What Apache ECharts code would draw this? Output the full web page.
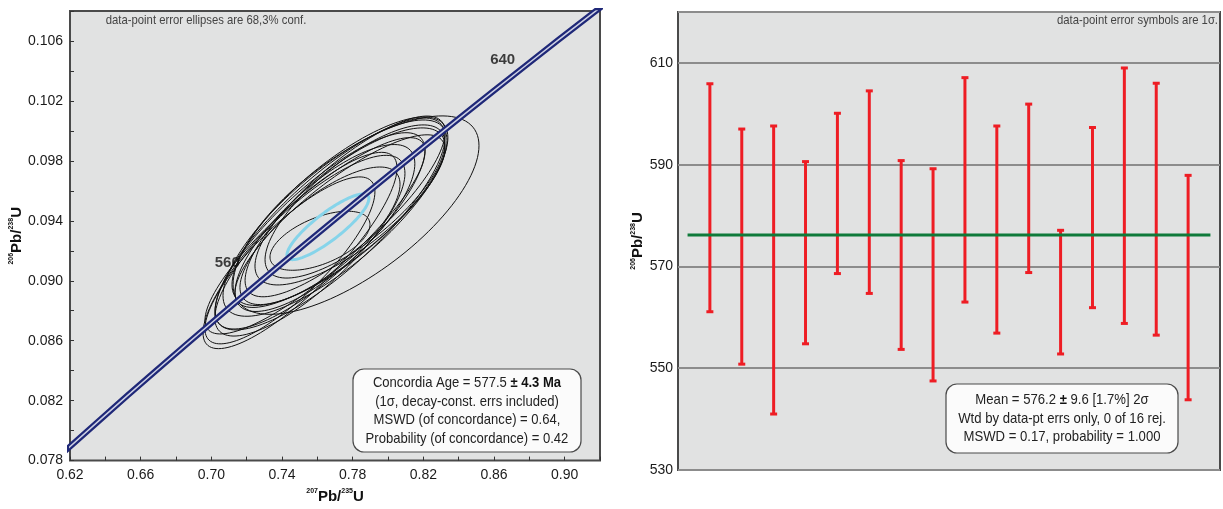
<!DOCTYPE html>
<html>
<head>
<meta charset="utf-8">
<title>Concordia and weighted mean</title>
<script src="https://cdn.jsdelivr.net/npm/echarts@6/dist/echarts.min.js"></script>
<style>
html, body { margin: 0; padding: 0; background: #fff; }
#chart { width: 1223px; height: 509px; }
</style>
</head>
<body>
<div id="chart"></div>
<script>
// concordia curve: ages (Ma) and their 207Pb/235U, 206Pb/238U ratios
var concordiaAge = [480, 500, 520, 540, 560, 580, 600, 620, 640, 660, 680];
var concordiaX = [0.6044, 0.6363, 0.6688, 0.7020, 0.7359, 0.7704, 0.8056, 0.8415, 0.8782, 0.9155, 0.9536];
var concordiaY = [0.07730, 0.08065, 0.08401, 0.08738, 0.09076, 0.09414, 0.09754, 0.10095, 0.10438, 0.10781, 0.11125];
var labelAges = [560, 640];

// data-point error ellipses: centre, half-extents and error correlation
var ellX   = [0.7819, 0.7672, 0.7700, 0.7615, 0.7728, 0.7502, 0.7558, 0.7757, 0.7643, 0.7785, 0.7615, 0.7615, 0.7728, 0.7587, 0.7445, 0.7813];
var ellY   = [0.09438, 0.09379, 0.09418, 0.09333, 0.09464, 0.09202, 0.09234, 0.09496, 0.09352, 0.09496, 0.09300, 0.09267, 0.09398, 0.09300, 0.09136, 0.09529];
var ellSX  = [0.0696, 0.0651, 0.0634, 0.0594, 0.0611, 0.0549, 0.0538, 0.0566, 0.0509, 0.0538, 0.0453, 0.0283, 0.0594, 0.0623, 0.0481, 0.0509];
var ellSY  = [0.00662, 0.00707, 0.00655, 0.00655, 0.00629, 0.00655, 0.00603, 0.00603, 0.00557, 0.00524, 0.00459, 0.00197, 0.00576, 0.00655, 0.00557, 0.00511];
var ellRho = [0.70, 0.82, 0.79, 0.82, 0.78, 0.84, 0.80, 0.82, 0.77, 0.76, 0.75, 0.55, 0.83, 0.86, 0.82, 0.76];

// concordia age ellipse
var ageEll = [0.7660, 0.0936, 0.0232, 0.00219, 0.86];

// weighted mean plot: 206Pb/238U ages (Ma), 1 sigma bars
var spotNo  = [1, 2, 3, 4, 5, 6, 7, 8, 9, 10, 11, 12, 13, 14, 15, 16];
var ageLow  = [561.1, 550.8, 541.0, 554.8, 568.6, 564.7, 553.7, 547.5, 563.0, 556.9, 568.8, 552.8, 561.9, 558.8, 556.5, 543.8];
var ageHigh = [605.9, 597.0, 597.6, 590.6, 600.1, 604.5, 590.8, 589.2, 607.1, 597.6, 601.9, 577.1, 597.3, 609.0, 606.0, 587.9];
var meanAge = 576.2;

var FONT = '"Liberation Sans", Arial, sans-serif';

var chart = echarts.init(document.getElementById('chart'));

var ellipseData = [];
for (var i = 0; i < ellX.length; i++) {
    ellipseData.push([ellX[i], ellY[i], ellSX[i], ellSY[i], ellRho[i]]);
}
var concordiaData = [];
for (var i = 0; i < concordiaAge.length; i++) {
    concordiaData.push([concordiaX[i], concordiaY[i]]);
}
var labelData = labelAges.map(function (a) {
    var k = concordiaAge.indexOf(a);
    return {
        value: [concordiaX[k], concordiaY[k], a],
        label: a === 560 ? { distance: 35, offset: [0, -7] } : { distance: 11, offset: [0, -5] }
    };
});
var barData = [];
for (var i = 0; i < spotNo.length; i++) {
    barData.push([spotNo[i], ageLow[i], ageHigh[i]]);
}

function ellipseRenderer(color, width, dash) {
    return function (params, api) {
        var cx = api.value(0), cy = api.value(1), sx = api.value(2), sy = api.value(3), r = api.value(4);
        var pts = [];
        var n = 120;
        for (var k = 0; k < n; k++) {
            var t = k / n * Math.PI * 2;
            var c = Math.cos(t), s = Math.sin(t);
            pts.push(api.coord([cx + sx * c, cy + sy * (r * c + Math.sqrt(1 - r * r) * s)]));
        }
        return {
            type: 'polygon',
            shape: { points: pts },
            style: { fill: 'none', stroke: color, lineWidth: width, lineDash: dash }
        };
    };
}

function errorBar(params, api) {
    var top = api.coord([api.value(0), api.value(2)]);
    var bot = api.coord([api.value(0), api.value(1)]);
    var w = 3.5;
    var st = { stroke: '#ee1d24', lineWidth: 3 };
    return {
        type: 'group',
        children: [
            { type: 'line', shape: { x1: top[0], y1: top[1], x2: bot[0], y2: bot[1] }, style: st },
            { type: 'line', shape: { x1: top[0] - w, y1: top[1], x2: top[0] + w, y2: top[1] }, style: st },
            { type: 'line', shape: { x1: bot[0] - w, y1: bot[1], x2: bot[0] + w, y2: bot[1] }, style: st }
        ]
    };
}

var nameRich = {
    b: { fontFamily: FONT, fontSize: 15, fontWeight: 'bold', color: '#111', lineHeight: 18 },
    s: { fontFamily: FONT, fontSize: 7, fontWeight: 'bold', color: '#111', lineHeight: 18, verticalAlign: 'top' }
};
var tickLabel = { fontFamily: FONT, fontSize: 14, color: '#1a1a1a' };

var option = {
    backgroundColor: '#fff',
    animation: false,
    grid: [
        { left: 70, top: 11, width: 530, height: 458, show: true, backgroundColor: '#e1e2e2', borderColor: '#4a4a4a', borderWidth: 2 },
        { left: 678, top: 12, width: 542, height: 458, show: true, backgroundColor: '#e1e2e2', borderColor: '#4a4a4a', borderWidth: 2 }
    ],
    xAxis: [{
        gridIndex: 0,
        type: 'value',
        min: 0.62,
        max: 0.92,
        interval: 0.02,
        axisLine: { show: false },
        axisTick: { inside: true, length: 4, lineStyle: { color: '#333' } },
        splitLine: { show: false },
        axisLabel: Object.assign({
            margin: 8,
            formatter: function (v) {
                return Math.round((v - 0.62) / 0.02) % 2 === 0 ? v.toFixed(2) : '';
            }
        }, tickLabel),
        name: '{s|207}{b|Pb/}{s|235}{b|U}',
        nameLocation: 'middle',
        nameGap: 23,
        nameTextStyle: { rich: nameRich }
    }, {
        gridIndex: 1,
        type: 'value',
        min: 0,
        max: 17,
        show: false
    }],
    yAxis: [{
        gridIndex: 0,
        type: 'value',
        min: 0.078,
        max: 0.108,
        interval: 0.002,
        axisLine: { show: false },
        axisTick: { inside: true, length: 4, lineStyle: { color: '#333' } },
        splitLine: { show: false },
        axisLabel: Object.assign({
            margin: 7,
            formatter: function (v) {
                return Math.round((v - 0.078) / 0.002) % 2 === 0 ? v.toFixed(3) : '';
            }
        }, tickLabel),
        name: '{s|206}{b|Pb/}{s|238}{b|U}',
        nameLocation: 'middle',
        nameGap: 41,
        nameTextStyle: { rich: nameRich }
    }, {
        gridIndex: 1,
        type: 'value',
        min: 530,
        max: 620,
        interval: 20,
        axisLine: { show: false },
        axisTick: { show: false },
        splitLine: { lineStyle: { color: '#8c8c8c', width: 2 } },
        axisLabel: Object.assign({
            margin: 5,
            formatter: function (v) {
                return (v - 530) % 20 === 0 && v < 620 ? String(v) : '';
            }
        }, tickLabel),
        name: '{s|206}{b|Pb/}{s|238}{b|U}',
        nameLocation: 'middle',
        nameGap: 24,
        nameTextStyle: { rich: nameRich }
    }],
    series: [{
        name: 'ellipses',
        type: 'custom',
        xAxisIndex: 0,
        yAxisIndex: 0,
        silent: true,
        renderItem: ellipseRenderer('#111', 1, null),
        encode: { x: 0, y: 1 },
        data: ellipseData
    }, {
        name: 'concordia age',
        type: 'custom',
        xAxisIndex: 0,
        yAxisIndex: 0,
        silent: true,
        renderItem: ellipseRenderer('#86d4ea', 3, null),
        encode: { x: 0, y: 1 },
        data: [ageEll]
    }, {
        name: 'concordia',
        type: 'line',
        xAxisIndex: 0,
        yAxisIndex: 0,
        smooth: true,
        symbol: 'none',
        silent: true,
        lineStyle: { color: '#1f2878', width: 6 },
        data: concordiaData
    }, {
        name: 'concordia inner',
        type: 'line',
        xAxisIndex: 0,
        yAxisIndex: 0,
        smooth: true,
        symbol: 'none',
        silent: true,
        lineStyle: { color: '#cdd0e4', width: 1.5 },
        data: concordiaData
    }, {
        name: 'age labels',
        type: 'scatter',
        xAxisIndex: 0,
        yAxisIndex: 0,
        symbolSize: 0,
        silent: true,
        label: {
            show: true,
            position: 'left',
            formatter: function (p) { return p.value[2]; },
            fontFamily: FONT,
            fontSize: 15,
            fontWeight: 'bold',
            color: '#111'
        },
        data: labelData
    }, {
        name: 'error bars',
        type: 'custom',
        xAxisIndex: 1,
        yAxisIndex: 1,
        silent: true,
        renderItem: errorBar,
        encode: { x: 0, y: [1, 2] },
        data: barData
    }, {
        name: 'mean',
        type: 'line',
        xAxisIndex: 1,
        yAxisIndex: 1,
        symbol: 'none',
        silent: true,
        lineStyle: { color: '#0f7a3a', width: 3 },
        data: [[spotNo[0] - 0.7, meanAge], [spotNo[spotNo.length - 1] + 0.7, meanAge]]
    }],
    graphic: [{
        type: 'text',
        x: 206, y: 20, scaleX: 0.87,
        style: {
            x: 0, y: 0, text: 'data-point error ellipses are 68,3% conf.',
            font: '13px ' + FONT, fill: '#444', textAlign: 'center', textVerticalAlign: 'middle'
        }
    }, {
        type: 'text',
        x: 1218, y: 20, scaleX: 0.87,
        style: {
            x: 0, y: 0, text: 'data-point error symbols are 1σ.',
            font: '13px ' + FONT, fill: '#444', textAlign: 'right', textVerticalAlign: 'middle'
        }
    }, {
        type: 'rect',
        shape: { x: 353, y: 369, width: 228, height: 83, r: 11 },
        style: { fill: '#fbfbfb', stroke: '#4a4a4a', lineWidth: 1.2 }
    }, {
        type: 'text',
        x: 467, y: 411, scaleX: 0.87,
        style: {
            x: 0, y: 0,
            text: 'Concordia Age = 577.5 {b|± 4.3 Ma}\n(1σ, decay-const. errs included)\nMSWD (of concordance) = 0.64,\nProbability (of concordance) = 0.42',
            font: '15px ' + FONT, fill: '#222', lineHeight: 18.7,
            textAlign: 'center', textVerticalAlign: 'middle',
            rich: { b: { fontFamily: FONT, fontSize: 15, fontWeight: 'bold', fill: '#111' } }
        }
    }, {
        type: 'rect',
        shape: { x: 946, y: 384, width: 232, height: 69, r: 11 },
        style: { fill: '#fbfbfb', stroke: '#4a4a4a', lineWidth: 1.2 }
    }, {
        type: 'text',
        x: 1062, y: 418.5, scaleX: 0.875,
        style: {
            x: 0, y: 0,
            text: 'Mean = 576.2 {b|±} 9.6 [1.7%] 2σ\nWtd by data-pt errs only, 0 of 16 rej.\nMSWD = 0.17, probability = 1.000',
            font: '15px ' + FONT, fill: '#222', lineHeight: 18.5,
            textAlign: 'center', textVerticalAlign: 'middle',
            rich: { b: { fontFamily: FONT, fontSize: 15, fontWeight: 'bold', fill: '#111' } }
        }
    }]
};

chart.setOption(option);
window.addEventListener('resize', function () {
    chart.resize();
});
</script>
</body>
</html>
